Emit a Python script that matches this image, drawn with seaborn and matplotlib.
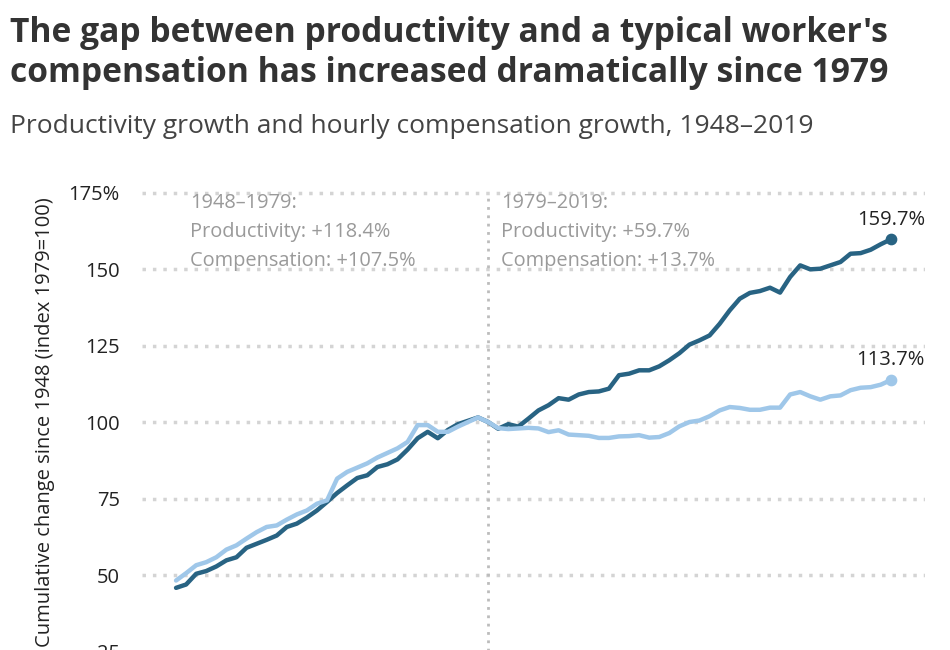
import numpy as np
import pandas as pd
import seaborn as sns
import matplotlib.pyplot as plt

years = list(range(1948, 2020))

# net productivity, index 1979=100
productivity = [
    45.8, 46.9, 50.4, 51.3, 52.8, 54.8, 55.8, 58.9, 60.2, 61.5,
    62.9, 65.7, 66.8, 68.8, 71.1, 73.9, 76.8, 79.3, 81.7, 82.6,
    85.3, 86.2, 87.8, 91.0, 94.7, 96.8, 94.7, 97.4, 99.3, 100.4,
    101.5, 100.0, 97.8, 99.3, 98.5, 101.1, 103.8, 105.5, 107.8, 107.3,
    109.0, 109.8, 110.0, 110.9, 115.3, 115.8, 116.9, 116.9, 118.2, 120.2,
    122.5, 125.3, 126.7, 128.3, 132.1, 136.5, 140.3, 142.2, 142.8, 143.9,
    142.3, 147.4, 151.2, 149.9, 150.1, 151.2, 152.3, 155.0, 155.2, 156.3,
    158.1, 159.7,
]

# hourly compensation of a typical worker, index 1979=100
compensation = [
    48.2, 50.6, 53.2, 54.2, 55.8, 58.3, 59.7, 61.9, 64.0, 65.7,
    66.2, 68.1, 69.8, 71.1, 73.3, 74.4, 81.5, 83.7, 85.1, 86.5,
    88.4, 89.9, 91.4, 93.5, 99.0, 99.0, 96.8, 96.8, 98.5, 100.0,
    101.5, 100.0, 98.0, 97.7, 97.9, 98.1, 97.9, 96.7, 97.3, 95.9,
    95.7, 95.5, 94.8, 94.8, 95.3, 95.4, 95.7, 94.9, 95.1, 96.4,
    98.6, 100.0, 100.5, 101.9, 103.8, 104.9, 104.6, 104.0, 104.0, 104.7,
    104.7, 109.0, 109.8, 108.4, 107.3, 108.4, 108.7, 110.4, 111.2, 111.4,
    112.2, 113.7,
]

series_names = ["Productivity", "Compensation"]
series_colors = ["#286383", "#9fc7e9"]
y_ticks = [25, 50, 75, 100, 125, 150, 175]
y_tick_labels = ["25", "50", "75", "100", "125", "150", "175%"]

df = pd.concat([
    pd.DataFrame({"year": years, "value": productivity, "series": series_names[0]}),
    pd.DataFrame({"year": years, "value": compensation, "series": series_names[1]}),
])

sns.set_theme(style="white")
plt.rcParams["font.family"] = ["Open Sans", "DejaVu Sans"]

fig = plt.figure(figsize=(9.5, 6.5), dpi=100)
ax = fig.add_axes([0.1495, -0.12, 0.824, 0.8332])

for y in y_ticks:
    ax.axhline(y, color="#d4d4d4", lw=2.5, ls=(0, (1, 2)), zorder=0)
ax.axvline(1979, ymax=175 / 177, color="#bcbcbc", lw=2, ls=(0, (1, 2)), zorder=1)

sns.lineplot(data=df, x="year", y="value", hue="series", hue_order=series_names,
             palette=series_colors, linewidth=3.2, legend=False, ax=ax, zorder=3)

# end dots and labels
for vals, col in zip([productivity, compensation], series_colors):
    ax.scatter([years[-1]], [vals[-1]], s=55, color=col, zorder=4)
    ax.annotate(f"{vals[-1]:.1f}%", (years[-1], vals[-1]), xytext=(0, 7),
                textcoords="offset points", ha="center", va="bottom",
                fontsize=14.5, color="#222222")

ax.text(1949.4, 174.8, "1948–1979:\nProductivity: +118.4%\nCompensation: +107.5%",
        ha="left", va="top", fontsize=14.4, color="#9a9a9a", linespacing=1.58)
ax.text(1980.3, 174.8, "1979–2019:\nProductivity: +59.7%\nCompensation: +13.7%",
        ha="left", va="top", fontsize=14.4, color="#9a9a9a", linespacing=1.58)

ax.set_xlim(1944.62, 2022.38)
ax.set_ylim(0, 177)
ax.set_yticks(y_ticks)
ax.set_yticklabels(y_tick_labels)
ax.set_xticks([])
ax.tick_params(axis="y", length=0, pad=16, labelsize=14.5, labelcolor="#222222")
ax.set_xlabel("")
ax.set_ylabel("")
sns.despine(ax=ax, left=True, bottom=True)

fig.text(45 / 950, 1 - 422 / 650, "Cumulative change since 1948 (index 1979=100)",
         rotation=90, ha="center", va="center", fontsize=14.5, color="#222222")

fig.text(10 / 950, 1 - 42 / 650,
         "The gap between productivity and a typical worker's",
         ha="left", va="baseline", fontsize=24.2, fontweight="bold", color="#333333")
fig.text(10 / 950, 1 - 82 / 650,
         "compensation has increased dramatically since 1979",
         ha="left", va="baseline", fontsize=24.2, fontweight="bold", color="#333333")
fig.text(10 / 950, 1 - 133 / 650,
         "Productivity growth and hourly compensation growth, 1948–2019",
         ha="left", va="baseline", fontsize=19, color="#444444")

fig.savefig("out.png", dpi=100)
